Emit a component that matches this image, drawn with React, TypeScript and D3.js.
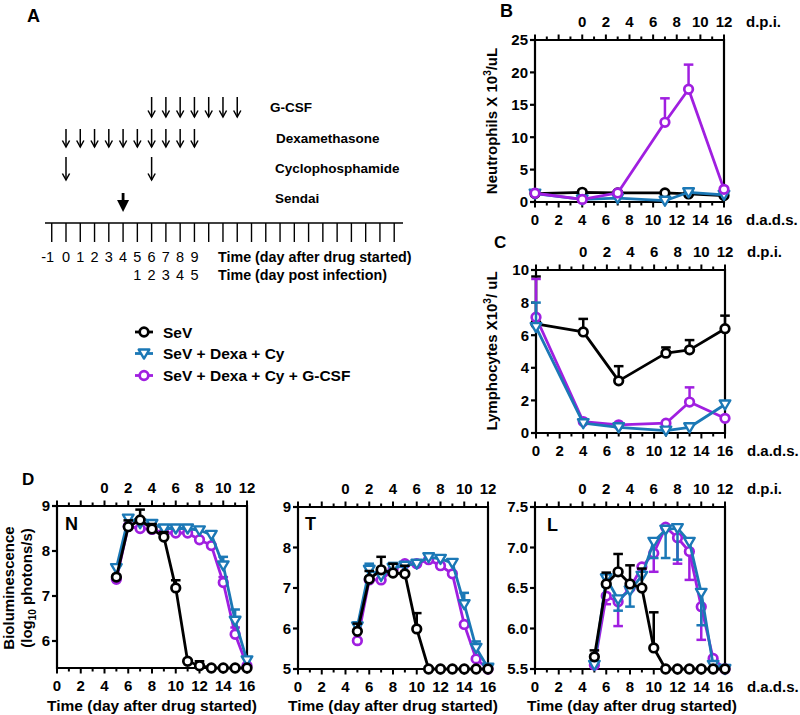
import React from 'react';
import * as d3 from 'd3';

const FONT = '"Liberation Sans", Arial, Helvetica, sans-serif';
const BLACK = '#000000';
const BLUE = '#1b78b6';
const PURPLE = '#a01fe0';

// ---------- Panel A (schedule) ----------
const timelineDays = d3.range(-1, 24);
const dadsLabels = [-1, 0, 1, 2, 3, 4, 5, 6, 7, 8, 9];
const dpiLabelDays = [5, 6, 7, 8, 9];
const dpiLabels = [1, 2, 3, 4, 5];
const gcsfDays = [6, 7, 8, 9, 10, 11, 12];
const dexaDays = [0, 1, 2, 3, 4, 5, 6, 7, 8, 9];
const cycloDays = [0, 6];
const sendaiDays = [4];

// ---------- Legend ----------
const seriesNames = ['SeV', 'SeV + Dexa + Cy', 'SeV + Dexa + Cy + G-CSF'];

// ---------- Panel B / C (blood counts) ----------
const bloodDays = [0, 4, 7, 11, 13, 16];
const neutSeV = [1.3, 1.5, 1.4, 1.4, 1.25, 1.0];
const neutDexa = [1.3, 0.4, 0.6, 0.2, 1.5, 1.1];
const neutGcsf = [1.35, 0.4, 1.4, 12.3, 17.4, 1.95];
const neutGcsfErr = [null, null, null, 16.0, 21.2, null];

const lymSeV = [6.7, 6.2, 3.2, 4.9, 5.1, 6.4];
const lymSeVErr = [9.6, 7.0, 4.1, 5.25, 5.7, 7.2];
const lymDexa = [6.5, 0.6, 0.35, 0.15, 0.35, 1.75];
const lymDexaErr = [8.0, null, null, null, null, 1.95];
const lymGcsf = [7.1, 0.7, 0.5, 0.6, 1.9, 0.9];
const lymGcsfErr = [9.45, null, null, null, 2.8, null];

// ---------- Panel D (bioluminescence) ----------
const imgDays = [5, 6, 7, 8, 9, 10, 11, 12, 13, 14, 15, 16];

const nSeV = [7.42, 8.54, 8.69, 8.49, 8.31, 7.18, 5.55, 5.45, 5.4, 5.4, 5.4, 5.4];
const nSeVErr = [null, 8.68, 8.92, 8.6, 8.42, 7.35, null, 5.55, null, null, null, null];
const nDexa = [7.62, 8.72, 8.62, 8.6, 8.5, 8.5, 8.5, 8.46, 8.36, 7.68, 6.45, 5.57];
const nDexaErr = [7.68, 8.78, null, 8.66, 8.55, null, null, null, 8.4, 7.87, 6.7, null];
const nGcsf = [7.37, 8.55, 8.5, 8.48, 8.4, 8.4, 8.4, 8.25, 8.12, 7.3, 6.15, 5.45];
const nGcsfErr = [null, null, null, null, null, null, null, null, null, 7.42, 6.3, null];

const tSeV = [5.93, 7.22, 7.45, 7.37, 7.35, 5.99, 5.0, 5.0, 5.0, 5.0, 5.0, 5.0];
const tSeVErr = [6.12, 7.42, 7.77, 7.6, 7.55, 6.38, null, null, null, null, null, null];
const tDexa = [6.05, 7.45, 7.3, 7.5, 7.55, 7.6, 7.76, 7.72, 7.62, 6.6, 5.52, 5.03];
const tDexaErr = [6.15, 7.6, 7.4, 7.62, null, null, 7.82, 7.78, 7.7, 6.88, 5.68, null];
const tGcsf = [5.7, 7.2, 7.2, 7.45, 7.6, 7.6, 7.7, 7.55, 7.35, 6.1, 5.25, 5.0];
const tGcsfErr = [null, null, null, null, null, null, null, null, null, null, null, null];

const lSeV = [5.65, 6.55, 6.7, 6.55, 6.5, 5.76, 5.5, 5.5, 5.5, 5.5, 5.5, 5.5];
const lSeVErr = [5.73, 6.69, 6.92, 6.78, 6.74, 6.2, null, null, null, null, null, null];
const lDexa = [5.55, 6.62, 6.36, 6.47, 6.65, 7.07, 7.22, 7.24, 7.07, 6.44, 5.55, 5.5];
const lDexaErr = [null, 6.52, 6.22, 6.27, null, 6.87, 6.87, 6.85, null, 6.04, null, null];
const lGcsf = [5.55, 6.4, 6.33, 6.5, 6.76, 6.93, 7.25, 7.12, 6.95, 6.27, 5.63, 5.5];
const lGcsfErr = [null, 6.3, 6.03, null, null, 6.7, null, 6.8, 6.6, 5.86, null, null];

type Err = (number | null)[];
type Series = { color: string; marker: 'circle' | 'tri'; values: number[]; err: Err };

function Marker({ x, y, type, color }: { x: number; y: number; type: 'circle' | 'tri'; color: string }) {
  if (type === 'circle') {
    return <circle cx={x} cy={y} r={4.3} fill="#fff" stroke={color} strokeWidth={2.7} />;
  }
  const s = 5.3;
  return (
    <path
      d={`M${x - s},${y - s * 0.75}L${x + s},${y - s * 0.75}L${x},${y + s * 0.95}Z`}
      fill="#fff"
      stroke={color}
      strokeWidth={2.4}
      strokeLinejoin="round"
    />
  );
}

type Box = { l: number; r: number; t: number; b: number };

function Plot({
  box,
  yDomain,
  yTicks,
  yFmt,
  days,
  series,
  dpiUnit,
  dadsUnit,
}: {
  box: Box;
  yDomain: [number, number];
  yTicks: number[];
  yFmt: (v: number) => string;
  days: number[];
  series: Series[];
  dpiUnit: boolean;
  dadsUnit: boolean;
}) {
  const x = d3.scaleLinear().domain([0, 16]).range([box.l, box.r]);
  const y = d3.scaleLinear().domain(yDomain).range([box.b, box.t]);
  const line = d3
    .line<number>()
    .x((_, i) => x(days[i]))
    .y((v) => y(v));
  const xt = d3.range(0, 17);
  const fs = 15;
  return (
    <g fontFamily={FONT} fontWeight="bold">
      <path
        d={`M${box.l},${box.t}L${box.l},${box.b}L${box.r},${box.b}L${box.r},${box.t}Z`}
        fill="none"
        stroke="#000"
        strokeWidth={2.2}
      />
      {yTicks.map((v) => (
        <g key={'y' + v}>
          <line x1={box.l - 5} x2={box.l} y1={y(v)} y2={y(v)} stroke="#000" strokeWidth={2.2} />
          <text x={box.l - 7} y={y(v)} dy="0.36em" textAnchor="end" fontSize={fs}>
            {yFmt(v)}
          </text>
        </g>
      ))}
      {xt.map((v) => (
        <line
          key={'b' + v}
          x1={x(v)}
          x2={x(v)}
          y1={box.b}
          y2={box.b + (v % 2 === 0 ? 5.5 : 3.5)}
          stroke="#000"
          strokeWidth={2}
        />
      ))}
      {xt
        .filter((v) => v % 2 === 0)
        .map((v) => (
          <text key={'bl' + v} x={x(v)} y={box.b + 18} dy="0.36em" textAnchor="middle" fontSize={fs}>
            {v}
          </text>
        ))}
      {dadsUnit && (
        <text x={box.r + 22} y={box.b + 18} dy="0.36em" fontSize={fs}>
          d.a.d.s.
        </text>
      )}
      {xt.map((v) => (
        <line
          key={'t' + v}
          x1={x(v)}
          x2={x(v)}
          y1={box.t}
          y2={box.t - (v % 2 === 0 ? 5.5 : 3.5)}
          stroke="#000"
          strokeWidth={2}
        />
      ))}
      {d3.range(0, 13, 2).map((v) => (
        <text key={'tl' + v} x={x(v + 4)} y={box.t - 18} dy="0.36em" textAnchor="middle" fontSize={fs}>
          {v}
        </text>
      ))}
      {dpiUnit && (
        <text x={box.r + 22} y={box.t - 18} dy="0.36em" fontSize={fs}>
          d.p.i.
        </text>
      )}
      {series.map((s, si) => (
        <g key={'s' + si}>
          {s.err.map((e, i) =>
            e == null ? null : (
              <g key={'e' + i}>
                <line x1={x(days[i])} x2={x(days[i])} y1={y(s.values[i])} y2={y(e)} stroke={s.color} strokeWidth={2.5} />
                <line x1={x(days[i]) - 4.8} x2={x(days[i]) + 4.8} y1={y(e)} y2={y(e)} stroke={s.color} strokeWidth={2.5} />
              </g>
            )
          )}
          <path d={line(s.values) || ''} fill="none" stroke={s.color} strokeWidth={2.8} strokeLinejoin="round" />
          {s.values.map((v, i) => (
            <Marker key={'m' + i} x={x(days[i])} y={y(v)} type={s.marker} color={s.color} />
          ))}
        </g>
      ))}
    </g>
  );
}

function PanelA() {
  const tx = d3.scaleLinear().domain([0, 1]).range([66, 80.27]);
  const lineY = 223;
  const arrow = (d: number, y1: number, y2: number, key: string) => (
    <g key={key}>
      <line x1={tx(d)} x2={tx(d)} y1={y1} y2={y2} stroke="#000" strokeWidth={1.5} />
      <polyline
        points={`${tx(d) - 3.6},${y2 - 6.5} ${tx(d)},${y2} ${tx(d) + 3.6},${y2 - 6.5}`}
        fill="none"
        stroke="#000"
        strokeWidth={1.5}
      />
    </g>
  );
  return (
    <g fontFamily={FONT}>
      <text x={27} y={22} fontSize={18} fontWeight="bold">
        A
      </text>
      {gcsfDays.map((d) => arrow(d, 97, 117, 'g' + d))}
      {dexaDays.map((d) => arrow(d, 129, 147, 'd' + d))}
      {cycloDays.map((d) => arrow(d, 157, 180, 'c' + d))}
      {sendaiDays.map((d) => (
        <g key={'s' + d}>
          <line x1={tx(d)} x2={tx(d)} y1={193} y2={203} stroke="#000" strokeWidth={2.8} />
          <path d={`M${tx(d) - 6},${200}L${tx(d) + 6},${200}L${tx(d)},${212}Z`} fill="#000" />
        </g>
      ))}
      <g fontWeight="bold" fontSize={13.5}>
        <text x={270} y={107} dy="0.36em">G-CSF</text>
        <text x={276} y={138} dy="0.36em">Dexamethasone</text>
        <text x={275} y={168} dy="0.36em">Cyclophosphamide</text>
        <text x={275} y={198} dy="0.36em">Sendai</text>
      </g>
      <line x1={45} x2={403} y1={lineY} y2={lineY} stroke="#000" strokeWidth={1.7} />
      {timelineDays.map((d) => (
        <line key={'tk' + d} x1={tx(d)} x2={tx(d)} y1={lineY} y2={lineY + 19} stroke="#000" strokeWidth={1.4} />
      ))}
      {dadsLabels.map((d) => (
        <text key={'dl' + d} x={tx(d) + (d < 0 ? -4 : 0)} y={257} dy="0.36em" textAnchor="middle" fontSize={14.5}>
          {d}
        </text>
      ))}
      {dpiLabels.map((v, i) => (
        <text key={'pl' + v} x={tx(dpiLabelDays[i])} y={275} dy="0.36em" textAnchor="middle" fontSize={14.5}>
          {v}
        </text>
      ))}
      <g fontWeight="bold" fontSize={14.3}>
        <text x={218} y={257} dy="0.36em">Time (day after drug started)</text>
        <text x={218} y={275} dy="0.36em">Time (day post infection)</text>
      </g>
    </g>
  );
}

function Legend() {
  const colors = [BLACK, BLUE, PURPLE];
  const markers: ('circle' | 'tri')[] = ['circle', 'tri', 'circle'];
  const ys = [332, 353.5, 375.5];
  return (
    <g fontFamily={FONT} fontWeight="bold" fontSize={15.5}>
      {seriesNames.map((n, i) => (
        <g key={n}>
          <line x1={135} x2={153} y1={ys[i]} y2={ys[i]} stroke={colors[i]} strokeWidth={2.8} />
          <Marker x={144} y={ys[i]} type={markers[i]} color={colors[i]} />
          <text x={163} y={ys[i]} dy="0.36em">
            {n}
          </text>
        </g>
      ))}
    </g>
  );
}

export default function App() {
  const fmt0 = (v: number) => d3.format('d')(v);
  const fmt1 = (v: number) => d3.format('.1f')(v);

  const bSeries: Series[] = [
    { color: BLACK, marker: 'circle', values: neutSeV, err: neutSeV.map(() => null) },
    { color: BLUE, marker: 'tri', values: neutDexa, err: neutDexa.map(() => null) },
    { color: PURPLE, marker: 'circle', values: neutGcsf, err: neutGcsfErr },
  ];
  const cSeries: Series[] = [
    { color: BLACK, marker: 'circle', values: lymSeV, err: lymSeVErr },
    { color: PURPLE, marker: 'circle', values: lymGcsf, err: lymGcsfErr },
    { color: BLUE, marker: 'tri', values: lymDexa, err: lymDexaErr },
  ];
  const mk = (sev: number[], sevE: Err, dx: number[], dxE: Err, g: number[], gE: Err): Series[] => [
    { color: PURPLE, marker: 'circle', values: g, err: gE },
    { color: BLUE, marker: 'tri', values: dx, err: dxE },
    { color: BLACK, marker: 'circle', values: sev, err: sevE },
  ];

  return (
    <svg
      width={800}
      height={715}
      viewBox="0 0 800 715"
      style={{ position: 'absolute', left: 0, top: 0, background: '#fff' }}
    >
      <rect x={0} y={0} width={800} height={715} fill="#fff" />
      <PanelA />
      <Legend />

      <text x={500} y={17} fontFamily={FONT} fontWeight="bold" fontSize={18}>B</text>
      <Plot
        box={{ l: 535, r: 724, t: 40, b: 202 }}
        yDomain={[0, 25]}
        yTicks={[0, 5, 10, 15, 20, 25]}
        yFmt={fmt0}
        days={bloodDays}
        series={bSeries}
        dpiUnit={true}
        dadsUnit={true}
      />
      <text
        transform="translate(497,121) rotate(-90)"
        textAnchor="middle"
        fontFamily={FONT}
        fontWeight="bold"
        fontSize={15}
      >
        Neutrophils X 10<tspan dy="-6" fontSize={10}>3</tspan>
        <tspan dy="6">/uL</tspan>
      </text>

      <text x={494} y={248} fontFamily={FONT} fontWeight="bold" fontSize={17}>C</text>
      <Plot
        box={{ l: 536, r: 725, t: 270, b: 433 }}
        yDomain={[0, 10]}
        yTicks={[0, 2, 4, 6, 8, 10]}
        yFmt={fmt0}
        days={bloodDays}
        series={cSeries}
        dpiUnit={true}
        dadsUnit={true}
      />
      <text
        transform="translate(497,351) rotate(-90)"
        textAnchor="middle"
        fontFamily={FONT}
        fontWeight="bold"
        fontSize={15}
      >
        Lymphocytes X10<tspan dy="-6" fontSize={10}>3</tspan>
        <tspan dy="6">/ uL</tspan>
      </text>

      <text x={22} y={485} fontFamily={FONT} fontWeight="bold" fontSize={17}>D</text>
      <g fontFamily={FONT} fontWeight="bold" fontSize={15}>
        <text transform="translate(14,588) rotate(-90)" textAnchor="middle">Bioluminescence</text>
        <text transform="translate(32,588) rotate(-90)" textAnchor="middle">
          (log<tspan dy="4" fontSize={10}>10</tspan>
          <tspan dy="-4"> photons/s)</tspan>
        </text>
      </g>

      <Plot
        box={{ l: 57, r: 247, t: 506, b: 668 }}
        yDomain={[5.4, 9]}
        yTicks={[6, 7, 8, 9]}
        yFmt={fmt0}
        days={imgDays}
        series={mk(nSeV, nSeVErr, nDexa, nDexaErr, nGcsf, nGcsfErr)}
        dpiUnit={false}
        dadsUnit={false}
      />
      <Plot
        box={{ l: 298, r: 488, t: 507, b: 669 }}
        yDomain={[5, 9]}
        yTicks={[5, 6, 7, 8, 9]}
        yFmt={fmt0}
        days={imgDays}
        series={mk(tSeV, tSeVErr, tDexa, tDexaErr, tGcsf, tGcsfErr)}
        dpiUnit={false}
        dadsUnit={false}
      />
      <Plot
        box={{ l: 535, r: 725, t: 507, b: 669 }}
        yDomain={[5.5, 7.5]}
        yTicks={[5.5, 6.0, 6.5, 7.0, 7.5]}
        yFmt={fmt1}
        days={imgDays}
        series={mk(lSeV, lSeVErr, lDexa, lDexaErr, lGcsf, lGcsfErr)}
        dpiUnit={true}
        dadsUnit={true}
      />
      <g fontFamily={FONT} fontWeight="bold">
        <text x={65} y={530} fontSize={18}>N</text>
        <text x={305} y={530} fontSize={18}>T</text>
        <text x={547} y={531} fontSize={18}>L</text>
        <text x={152} y={705} dy="0.36em" textAnchor="middle" fontSize={15.5}>Time (day after drug started)</text>
        <text x={393} y={705} dy="0.36em" textAnchor="middle" fontSize={15.5}>Time (day after drug started)</text>
        <text x={632} y={705} dy="0.36em" textAnchor="middle" fontSize={15.5}>Time (day after drug started)</text>
      </g>
    </svg>
  );
}
